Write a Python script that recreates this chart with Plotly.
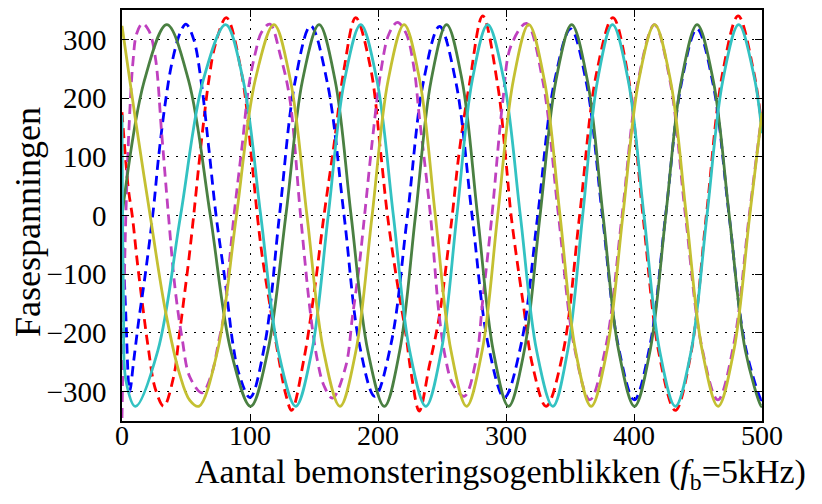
import plotly.graph_objects as go

# ---- data (sample index, phase voltage) ----
green_x = [0, 17.5, 35, 52, 69, 85, 100.5, 114, 128, 141, 154, 166.5, 179, 192, 205, 217, 229.3, 241.5,
           253.6, 265.7, 277.8, 290, 302, 314.3, 326.6, 339, 351.3, 363.6, 375.8, 388, 400.4, 412.6,
           424.8, 437, 449.3, 461.9, 474.4, 487, 499.5, 500]
green_y = [0, 230, 325, 230, 0, -230, -325, -230, 0, 230, 325, 230, 0, -230, -325, -230, 0, 230,
           325, 230, 0, -230, -325, -230, 0, 230, 325, 230, 0, -230, -325, -230,
           0, 230, 325, 230, 0, -230, -325, -325]

cyan_x = [0, 1.2, 3, 10.5, 28, 45.75, 63.4, 81, 94.7, 108.4, 122, 135.7, 148.4, 161.1, 173.8, 186.5,
          199.2, 212, 224.7, 237.4, 249.5, 261.6, 273.6, 285.7, 298.4, 311.2, 323.9, 336.6, 348.2,
          359.9, 371.5, 383.2, 395.5, 407.8, 420, 432.3, 444.7, 457, 469.4, 481.8, 494, 500]
cyan_y = [171, -150, -280, -325, -230, 0, 230, 325, 230, 0, -230, -325, -230, 0, 230, 325,
          230, 0, -230, -325, -230, 0, 230, 325, 230, 0, -230, -325, -230,
          0, 230, 325, 230, 0, -230, -325, -230, 0, 230, 325, 235, 140]

yellow_x = [0, 10.4, 22, 33.9, 45, 53, 60, 74.7, 89.4, 104, 118.7, 131.6, 144.5, 157.4, 170.3, 182.8,
            195.4, 207.9, 220.4, 232.6, 244.8, 257, 269.2, 281.4, 293.5, 305.7, 317.8, 330, 342.2,
            354.3, 366.5, 378.9, 391.3, 403.7, 416.1, 428.5, 440.9, 453.3, 465.7, 478, 490.4, 500]
yellow_y = [323, 165, 0, -162, -270, -315, -325, -230, 0, 230, 325, 230, 0, -230, -325, -230,
            0, 230, 325, 230, 0, -230, -325, -230, 0, 230, 325, 230, 0,
            -230, -325, -230, 0, 230, 325, 230, 0, -230, -325, -230, 0, 175]

red_x = [0, 5, 8, 12, 16.5, 20.5, 26, 32.6, 40.4, 44.3, 48.2, 52.1, 56, 60, 63.9, 67.8, 73, 81.5,
         93.6, 101.8, 105.7, 109.6, 116.1, 122.6, 128, 132.5, 142, 150, 157.8, 165.6, 173.5, 182.6,
         194.3, 202.2, 207.4, 215.2, 221.7, 226, 232.2, 240, 247.8, 255.6, 258, 263.5, 271.3, 281.8,
         293.5, 300, 304, 313.1, 320.9, 331.3, 344.4, 357.5, 370.5, 383.5, 395.2, 407, 419.6, 432.3,
         444.4, 456.5, 469, 481.4, 493.5, 500]
red_y = [176, 45, 0, -80, -160, -225, -295, -325, -274, -212, -145, -77, 0, 85, 162, 230, 292, 337,
         240, 85, 0, -70, -160, -245, -305, -332, -246, -133, 0, 120, 250, 337,
         250, 105, 0, -117, -201, -270, -333, -257, -173, -43, 0, 109, 222, 340,
         222, 92, 0, -145, -257, -325, -235, 0, 240, 337, 240, 0, -236, -332,
         -236, 0, 240, 340, 245, 150]

blue_x = [0, 3, 6, 9, 13, 18.2, 24.5, 28.6, 33.9, 39.1, 45.6, 50, 56, 61.75, 67.8, 73.5, 80.9, 86.75,
          91.3, 100, 111.5, 123, 135.2, 147.4, 160.5, 173.5, 185.5, 197.5, 210.25, 223, 235.5, 248,
          260.75, 273.5, 286.1, 298.7, 311.75, 324.8, 337.6, 350.5, 362.9, 375.3, 387.7, 400.2,
          412.4, 424.7, 437, 449.2, 461.7, 474.3, 486.9, 499.5, 500]
blue_y = [0, -170, -300, -250, -180, -100, 10, 100, 193, 261, 312, 326, 300, 230, 115, 0, -117, -220,
          -269, -310, -220, 0, 228, 323, 225, 0, -220, -308, -218, 0, 228, 322,
          228, 0, -220, -310, -220, 0, 225, 318, 225, 0, -222, -314,
          -222, 0, 225, 318, 225, 0, -222, -314, -314]

magenta_x = [0, 1.5, 3, 5.5, 8.5, 11.5, 16, 21, 26, 31, 36.3, 41.5, 47, 53, 62.5, 70, 75.5, 79.6,
             83.5, 87.5, 93.9, 99.1, 104.3, 109, 115.5, 124, 131, 139.5, 147.4, 152.6, 157.8, 164.4,
             174.8, 180, 185.2, 189.5, 195.7, 202.2, 208.7, 215.2, 222, 228.2, 232.2, 241, 247.8,
             253, 258.2, 267.4, 276.6, 281.8, 289, 297.4, 303.9, 316, 328.5, 341, 353.2, 365.5,
             378.1, 390.7, 403.3, 416, 428.1, 440.2, 452.8, 465.5, 477.7, 490, 500]
magenta_y = [-345, -150, 0, 150, 260, 310, 327, 315, 270, 140, 0, -125, -210, -275, -302, -270, -215, -170,
             -88, 0, 120, 221, 278, 312, 326, 270, 200, 0, -170, -246, -290, -311,
             -257, -173, -88, 0, 130, 245, 310, 329, 310, 250, 170, 0, -170,
             -246, -286, -308, -246, -145, 0, 193, 289, 327, 232, 0, -222, -314,
             -222, 0, 230, 325, 230, 0, -222, -314, -222, 0, 175]

x_ticks = [0, 100, 200, 300, 400, 500]
y_ticks = [-300, -200, -100, 0, 100, 200, 300]

FONT = "Liberation Serif"

fig = go.Figure()

dashed = [(red_x, red_y, "#FF0000"), (blue_x, blue_y, "#0000FF"), (magenta_x, magenta_y, "#BF40BF")]
solid = [(green_x, green_y, "#4A8042"), (cyan_x, cyan_y, "#33C2C2"), (yellow_x, yellow_y, "#C4C032")]

for xs, ys, c in dashed:
    fig.add_trace(go.Scatter(x=xs, y=ys, mode="lines",
                             line=dict(color=c, width=2.8, dash="10px,6px", shape="spline", smoothing=1.0),
                             hoverinfo="skip"))
for xs, ys, c in solid:
    fig.add_trace(go.Scatter(x=xs, y=ys, mode="lines",
                             line=dict(color=c, width=2.8, shape="spline", smoothing=1.0),
                             hoverinfo="skip"))

axis_common = dict(showline=True, linecolor="black", linewidth=1.5, mirror="ticks",
                   ticks="inside", ticklen=7, tickwidth=1.2, tickcolor="black",
                   showgrid=True, gridcolor="black", gridwidth=1.2, griddash="2px,7px",
                   zeroline=False)

fig.update_xaxes(range=[0, 500], tickvals=x_ticks, ticktext=[str(v) for v in x_ticks],
                 tickfont=dict(family=FONT, size=28, color="black"),
                 ticklabelstandoff=-11, **axis_common)
fig.update_yaxes(range=[-350, 350], tickvals=y_ticks,
                 ticktext=[("\u2212" + str(-v)) if v < 0 else str(v) for v in y_ticks],
                 tickfont=dict(family=FONT, size=29, color="black"),
                 ticklabelstandoff=8, **axis_common)

fig.add_annotation(text="Aantal bemonsteringsogenblikken (<i>f</i><sub>b</sub>=5kHz)",
                   xref="paper", yref="paper", x=0.592, y=-0.128, xanchor="center", yanchor="middle",
                   showarrow=False, font=dict(family=FONT, size=34, color="black"))
fig.add_annotation(text="Fasespanningen", textangle=-90,
                   xref="paper", yref="paper", x=-0.147, y=0.484, xanchor="center", yanchor="middle",
                   showarrow=False, font=dict(family=FONT, size=36, color="black"))

fig.update_layout(width=822, height=504, margin=dict(l=122, r=60, t=8, b=83),
                  plot_bgcolor="white", paper_bgcolor="white", showlegend=False)

fig.write_html("out.html")
